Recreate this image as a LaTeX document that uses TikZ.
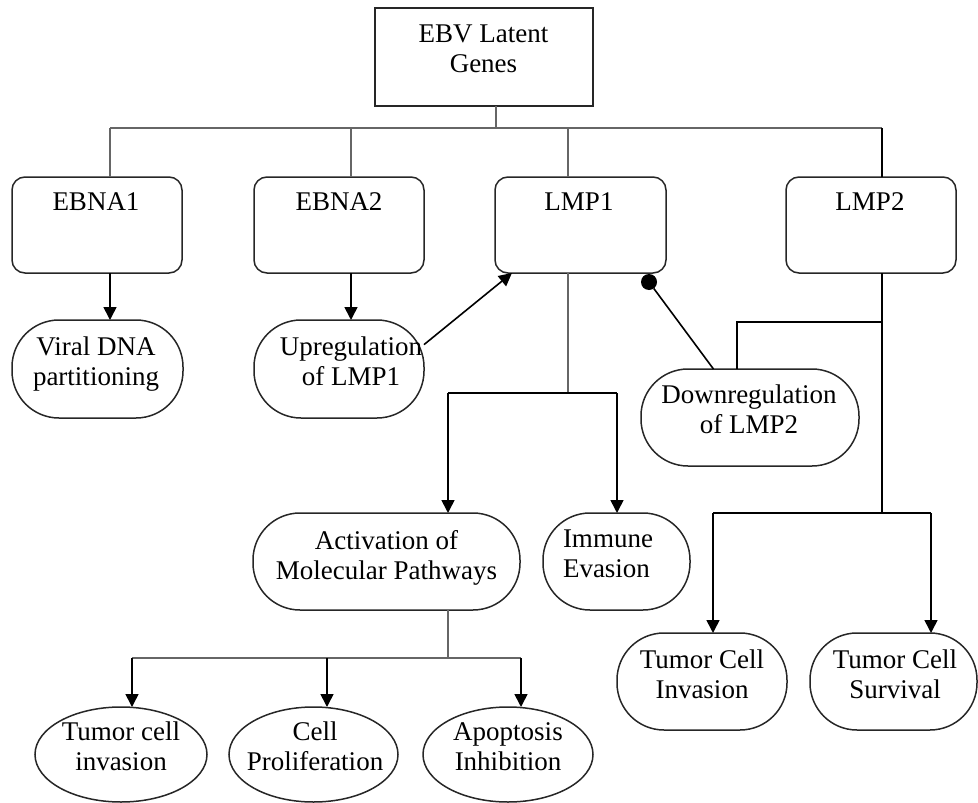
\documentclass[tikz,border=0pt]{standalone}
\usepackage{fontspec}
\setmainfont{Liberation Serif}
\usetikzlibrary{arrows.meta,shapes.geometric}
\begin{document}
\begin{tikzpicture}[x=1pt,y=-1pt,
  every node/.style={inner sep=0pt, outer sep=0pt},
  shp/.style={draw=black!85, line width=1.5pt},
  sqbox/.style={shp, rectangle},
  rbox/.style={shp, rectangle, rounded corners=13pt},
  pill/.style={shp, rectangle, rounded corners=47pt},
  oval/.style={shp, ellipse},
  lbl/.style={anchor=north, align=center, font=\fontsize{27}{30}\selectfont},
  tree/.style={draw=black!60, line width=1.4pt},
  link/.style={draw=black, line width=1.6pt},
  arr/.style={link, -{Triangle[length=13pt,width=13pt]}},
]
\useasboundingbox (0,0) rectangle (978,803);

% shapes
\node[sqbox, minimum width=218pt, minimum height=98pt] (ebv) at (484,57) {};
\node[rbox, minimum width=170pt, minimum height=96pt] (ebna1) at (97,225) {};
\node[rbox, minimum width=170pt, minimum height=96pt] (ebna2) at (339,225) {};
\node[rbox, minimum width=171pt, minimum height=96pt] (lmp1) at (580.5,225) {};
\node[rbox, minimum width=170pt, minimum height=96pt] (lmp2) at (871,225) {};
\node[pill, minimum width=171pt, minimum height=98pt] (viral) at (97.5,369) {};
\node[pill, minimum width=170pt, minimum height=98pt] (upreg) at (339,369) {};
\node[pill, minimum width=218pt, minimum height=97pt] (downreg) at (750,417.5) {};
\node[pill, minimum width=267pt, minimum height=97pt] (activ) at (386.5,561.5) {};
\node[pill, minimum width=147pt, minimum height=97pt] (immune) at (616.5,561.5) {};
\node[pill, minimum width=170pt, minimum height=97pt] (tcinv) at (702,681.5) {};
\node[pill, minimum width=167pt, minimum height=97pt] (tcsurv) at (893.5,681.5) {};
\node[oval, minimum width=172pt, minimum height=95pt] (tci) at (121,754.5) {};
\node[oval, minimum width=169pt, minimum height=95pt] (cp) at (313.5,754.5) {};
\node[oval, minimum width=170pt, minimum height=95pt] (ai) at (508,754.5) {};

% texts
\node[lbl] (tebv) at (483.5,25) {EBV Latent\\Genes};
\node[lbl] (tebna1) at (96,193) {EBNA1};
\node[lbl] (tebna2) at (339,193) {EBNA2};
\node[lbl] (tlmp1) at (579,193) {LMP1};
\node[lbl] (tlmp2) at (870,193) {LMP2};
\node[lbl] (tviral) at (96,337) {Viral DNA\\partitioning};
\node[lbl] (tupreg) at (351,337) {Upregulation\\of LMP1};
\node[lbl] (tdown) at (749,385) {Downregulation\\of LMP2};
\node[lbl] (tactiv) at (386.5,530) {Activation of\\Molecular Pathways};
\node[lbl, anchor=north west, align=left] (timm) at (563,530) {Immune\\Evasion};
\node[lbl] (ttcinv) at (702,650) {Tumor Cell\\Invasion};
\node[lbl] (ttcsurv) at (895,650) {Tumor Cell\\Survival};
\node[lbl] (ttci) at (121,722) {Tumor cell\\invasion};
\node[lbl] (tcp) at (315,722) {Cell\\Proliferation};
\node[lbl] (tai) at (508,723) {Apoptosis\\Inhibition};

% junction coordinates
\coordinate (t0) at (496,128);
\coordinate (t1) at (110,128);
\coordinate (t2) at (351,128);
\coordinate (t3) at (568,128);
\coordinate (t4) at (882,128);
\coordinate (r0) at (882,322);
\coordinate (r0b) at (737,322);
\coordinate (r1) at (882,513);
\coordinate (r2) at (713,513);
\coordinate (r3) at (931,513);
\coordinate (m0) at (568,393);
\coordinate (m1) at (448,393);
\coordinate (m2) at (617,393);
\coordinate (a0) at (448,658);
\coordinate (a1) at (132,658);
\coordinate (a2) at (327,658);
\coordinate (a3) at (521,658);

% EBV tree
\draw[tree] (t0 |- ebv.south) -- (t0);
\draw[tree] (t1) -- (t4);
\draw[tree] (t1) -- (t1 |- ebna1.north);
\draw[tree] (t2) -- (t2 |- ebna2.north);
\draw[tree] (t3) -- (t3 |- lmp1.north);
\draw[link] (t4) -- (t4 |- lmp2.north);

% EBNA arrows
\draw[arr] (t1 |- ebna1.south) -- (t1 |- viral.north);
\draw[arr] (t2 |- ebna2.south) -- (t2 |- upreg.north);

% Upregulation -> LMP1
\draw[arr] (upreg.16) -- (lmp1.215);

% Downregulation -| LMP1
\node[circle, fill=black, minimum size=16pt] (dot) at (649,282) {};
\draw[link] (downreg.127) -- (dot);

% LMP2 branches
\draw[link] (t4 |- lmp2.south) -- (r1);
\draw[link] (r0) -- (r0b) -- (r0b |- downreg.north);
\draw[link] (r2) -- (r3);
\draw[arr] (r2) -- (r2 |- tcinv.north);
\draw[arr] (r3) -- (r3 |- tcsurv.north);

% LMP1 branches
\draw[tree] (t3 |- lmp1.south) -- (m0);
\draw[link] (m1) -- (m2);
\draw[arr] (m1) -- (m1 |- activ.north);
\draw[arr] (m2) -- (m2 |- immune.north);

% Activation branches
\draw[tree] (m1 |- activ.south) -- (a0);
\draw[tree] (a1) -- (a3);
\draw[arr] (a1) -- (a1 |- tci.north);
\draw[arr] (a2) -- (a2 |- cp.north);
\draw[arr] (a3) -- (a3 |- ai.north);
\end{tikzpicture}
\end{document}
